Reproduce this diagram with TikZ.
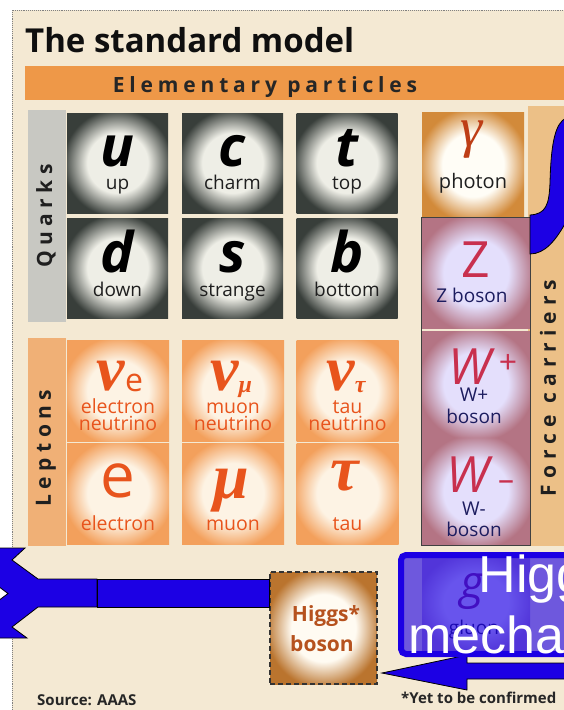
\documentclass[tikz,border=0pt]{standalone}
\usepackage{fontspec}
\setmainfont{Open Sans}
\newfontfamily\grk{Liberation Serif}
\newfontfamily\arl{Liberation Sans}
\definecolor{panel}{RGB}{244,233,211}
\definecolor{bandor}{RGB}{238,152,72}
\definecolor{titlecol}{RGB}{15,15,15}
\definecolor{qgrey}{RGB}{200,200,194}
\definecolor{qin}{RGB}{238,238,230}
\definecolor{qout}{RGB}{56,62,58}
\definecolor{lstrip}{RGB}{240,176,118}
\definecolor{lin}{RGB}{253,243,228}
\definecolor{lout}{RGB}{243,160,92}
\definecolor{ltext}{RGB}{232,84,28}
\definecolor{fstrip}{RGB}{236,192,135}
\definecolor{pin}{RGB}{255,253,246}
\definecolor{pout}{RGB}{210,138,58}
\definecolor{gam}{RGB}{190,62,22}
\definecolor{zin}{RGB}{228,223,252}
\definecolor{zout}{RGB}{180,116,132}
\definecolor{zred}{RGB}{200,48,78}
\definecolor{znavy}{RGB}{28,28,95}
\definecolor{hin}{RGB}{255,251,242}
\definecolor{hout}{RGB}{186,116,46}
\definecolor{htext}{RGB}{182,82,30}
\definecolor{hblue}{RGB}{28,0,228}
\definecolor{gout}{RGB}{170,140,200}
\definecolor{gpurp}{RGB}{130,40,140}
\colorlet{tin}{white}
\colorlet{tout}{black}
\pgfdeclareradialshading[tin,tout]{tileshade}{\pgfpoint{0bp}{0bp}}{color(0bp)=(tin); color(15bp)=(tin); color(27bp)=(tout); color(50bp)=(tout)}
\tikzset{
  tile/.style n args={2}{draw=none, inner sep=0pt, shade, shading=tileshade,
     /utils/exec={\colorlet{tin}{#1}\colorlet{tout}{#2}}},
  qtile/.style={tile={qin}{qout}, minimum width=101pt, minimum height=100pt},
  ltile/.style={tile={lin}{lout}, minimum width=102pt, minimum height=101pt},
  ztile/.style={tile={zin}{zout}, minimum width=108pt, minimum height=107pt},
  txt/.style={anchor=base, inner sep=0pt},
  qsym/.style={txt, font=\fontsize{56}{56}\selectfont\bfseries\itshape, text=black},
  qlab/.style={txt, font=\fontsize{19}{19}\selectfont, text=black!88},
  lsym/.style={txt, font=\fontsize{64}{64}\selectfont\grk\bfseries\itshape, text=ltext},
  llab/.style={txt, font=\fontsize{19.5}{19.5}\selectfont, text=ltext},
  zsym/.style={txt, font=\fontsize{50}{50}\selectfont, text=zred},
  zlab/.style={txt, font=\fontsize{19}{19}\selectfont, text=znavy},
  side/.style={rotate=90, inner sep=0pt, text=black!88,
     font=\fontsize{21}{21}\selectfont\bfseries\addfontfeatures{LetterSpace=26}},
  blueshape/.style={fill=hblue, draw=black, line width=0.8pt},
}
\begin{document}
\begin{tikzpicture}[x=1pt,y=-1pt]
\useasboundingbox (0,0) rectangle (564,710);
\clip (0,0) rectangle (564,710);
\fill[white] (0,0) rectangle (564,710);
\fill[panel] (12,10) rectangle (564,710);
\draw[gray, densely dotted, line width=0.9pt] (12,710) -- (12,10) -- (564,10);

% title and band
\node[anchor=base west, inner sep=0pt, font=\fontsize{33}{33}\selectfont\bfseries, text=titlecol] (title) at (25,52) {The standard model};
\fill[bandor] (25,66) rectangle (564,100);
\node[txt, font=\fontsize{21}{21}\selectfont\bfseries\addfontfeatures{LetterSpace=23}, text=black!85] (elem) at (265,92) {Elementary particles};

% side strips
\fill[qgrey] (28,110) rectangle (66,322);
\fill[lstrip] (28,338) rectangle (66,546);
\fill[fstrip] (528,106) rectangle (564,546);
\node[side] (quarks) at (46,216) {Quarks};
\node[side] (leptons) at (46,448) {Leptons};
\node[side, font=\fontsize{21}{21}\selectfont\bfseries\addfontfeatures{LetterSpace=29}] (forcec) at (548,388) {Force carriers};

% quarks
\node[qtile] (tu) at (117.5,163) {};
\node[qtile] (tc) at (232.5,163) {};
\node[qtile] (tt) at (347,163) {};
\node[qtile] (td) at (117.5,268) {};
\node[qtile] (ts) at (232.5,268) {};
\node[qtile] (tb) at (347,268) {};
\node[qsym] (su) at (117.5,166) {u};
\node[qsym] (sc) at (232.5,166) {c};
\node[qsym] (st) at (347,166) {t};
\node[qsym] (sd) at (117.5,272) {d};
\node[qsym] (ss) at (232.5,272) {s};
\node[qsym] (sb) at (347,272) {b};
\node[qlab] (lu) at (117.5,189) {up};
\node[qlab] (lc) at (232.5,189) {charm};
\node[qlab] (lt) at (347,189) {top};
\node[qlab] (ld) at (117.5,296) {down};
\node[qlab] (ls) at (232.5,296) {strange};
\node[qlab] (lb) at (347,296) {bottom};

% leptons
\node[ltile] (tne) at (118,391) {};
\node[ltile] (tnm) at (233,391) {};
\node[ltile] (tnt) at (347.5,391) {};
\node[ltile] (te) at (118,493.5) {};
\node[ltile] (tm) at (233,493.5) {};
\node[ltile] (ttau) at (347.5,493.5) {};
\node[lsym] (sne) at (120,390) {ν\raisebox{-1pt}{\fontsize{32}{32}\selectfont\normalfont e}};
\node[lsym] (snm) at (231,390) {ν\raisebox{-2pt}{\fontsize{24}{24}\selectfont μ}};
\node[lsym] (snt) at (346,390) {ν\raisebox{-2pt}{\fontsize{24}{24}\selectfont τ}};
\node[llab] (lne1) at (118,413) {electron};
\node[llab] (lne2) at (118,430) {neutrino};
\node[llab] (lnm1) at (233,413) {muon};
\node[llab] (lnm2) at (233,430) {neutrino};
\node[llab] (lnt1) at (347.5,413) {tau};
\node[llab] (lnt2) at (347.5,430) {neutrino};
\node[txt, font=\fontsize{62}{62}\selectfont, text=ltext] (se) at (118,497) {e};
\node[lsym] (sm) at (231,498) {μ};
\node[lsym] (stau) at (345,490) {τ};
\node[llab] (le) at (118,530) {electron};
\node[llab] (lm) at (233,530) {muon};
\node[llab] (ltau) at (347.5,530) {tau};

% photon
\node[tile={pin}{pout}, minimum width=102pt, minimum height=106pt] (tph) at (473,165) {};
\node[txt, font=\fontsize{56}{56}\selectfont\grk\itshape, text=gam] (sph) at (472,146) {γ};
\node[qlab, font=\fontsize{20}{20}\selectfont] (lph) at (473,188) {photon};

% Z and W
\node[ztile, minimum height=110pt] (tz) at (476,273) {};
\node[ztile, minimum height=106pt] (twp) at (476,384) {};
\node[ztile, minimum height=107pt] (twm) at (476,491.5) {};
\node[zsym] (sz) at (476,277) {Z};
\node[zlab] (lz) at (472,302) {Z boson};
\node[zsym, font=\fontsize{50}{50}\selectfont\itshape] (swp) at (470,384) {W};
\node[txt, font=\fontsize{32}{32}\selectfont, text=zred] (pwp) at (508,373) {+};
\node[zlab] (lwp1) at (474,401) {W+};
\node[zlab] (lwp2) at (474,423) {boson};
\node[zsym, font=\fontsize{50}{50}\selectfont\itshape] (swm) at (468,492) {W};
\node[txt, font=\fontsize{32}{32}\selectfont, text=zred] (mwm) at (506,490) {–};
\node[zlab] (lwm1) at (474,515) {W-};
\node[zlab] (lwm2) at (474,536) {boson};
\draw[black!75, line width=0.9pt] (tz.north west) rectangle (twm.south east);

% gluon (under the blue box)
\node[tile={zin}{gout}, minimum width=108pt, minimum height=95pt] (tg) at (476,602.5) {};
\node[txt, font=\fontsize{46}{46}\selectfont\itshape, text=gpurp] (sg) at (472,598) {g};
\node[zlab] (lg) at (474,634) {gluon};

% Higgs tile
\node[tile={hin}{hout}, minimum width=107pt, minimum height=112pt, draw=black!80, dashed, line width=1.2pt, dash pattern=on 5pt off 3pt] (higgs) at (323.5,628) {};
\node[txt, font=\fontsize{21}{21}\selectfont\bfseries, text=htext] (lh1) at (326,621) {Higgs*};
\node[txt, font=\fontsize{21}{21}\selectfont\bfseries, text=htext] (lh2) at (322,651) {boson};

% blue shapes
\filldraw[blueshape] (530,215) .. controls (546,214) and (549,205) .. (550,183)
   .. controls (551,140) and (556,123) .. (566,118) -- (566,222)
   .. controls (556,240) and (545,254) .. (530,254) -- cycle;
\filldraw[blueshape] (-2,548) -- (25,548) -- (12,560) -- (38,579) -- (97,579) -- (97,607)
   -- (38,607) -- (12,627) -- (27,638) -- (-2,638) -- (-2,601) -- (8,593.5) -- (-2,586) -- cycle;
\filldraw[blueshape] (97,579) rectangle (higgs.west |- 0,607);
\filldraw[blueshape] (382,673) -- (467,655) -- (467,663) -- (570,663) -- (570,679) -- (467,679) -- (467,690) -- cycle;
\draw[hblue, line width=6pt, fill=hblue, fill opacity=0.62, rounded corners=5pt] (401,555) rectangle (700,654);
\node[anchor=base, inner sep=0pt, font=\fontsize{52}{52}\selectfont\arl, text=white] (hm1) at (545,592) {Higgs};
\node[anchor=base, inner sep=0pt, font=\fontsize{52}{52}\selectfont\arl, text=white] (hm2) at (541,653) {mechanism};

% footnotes
\node[anchor=base west, inner sep=0pt, font=\fontsize{15}{15}\selectfont\bfseries, text=black!85] (src) at (37,705) {Source: AAAS};
\node[anchor=base west, inner sep=0pt, font=\fontsize{15}{15}\selectfont\bfseries, text=black!85] (yet) at (401,703) {*Yet to be confirmed};
\end{tikzpicture}
\end{document}
